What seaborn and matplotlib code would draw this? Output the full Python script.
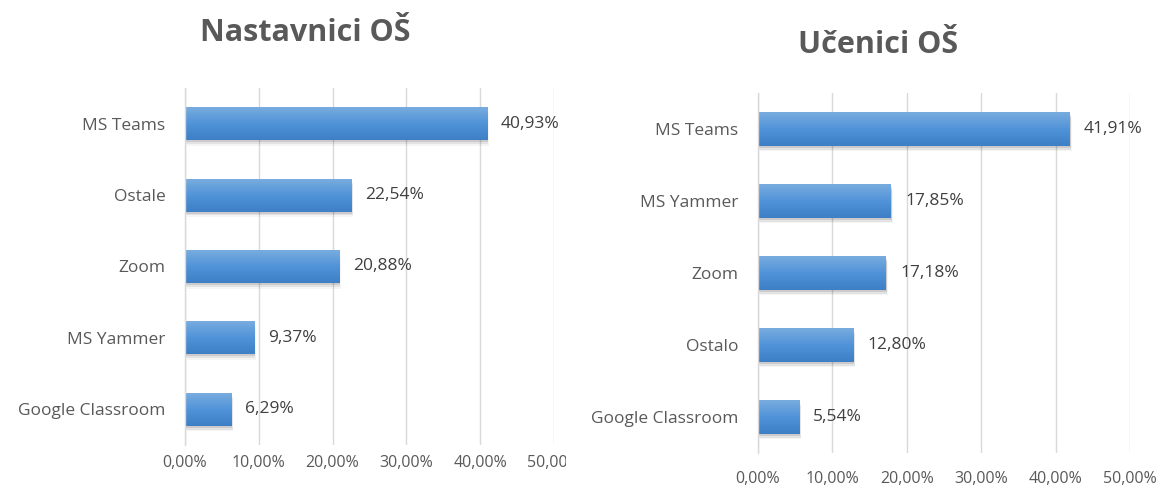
import matplotlib
matplotlib.use("Agg")
import matplotlib.pyplot as plt
import matplotlib.transforms as mtransforms
import numpy as np
import pandas as pd
import seaborn as sns
from matplotlib.colors import LinearSegmentedColormap

# ---- data ----
left_title = "Nastavnici OŠ"
left_categories = ["MS Teams", "Ostale", "Zoom", "MS Yammer", "Google Classroom"]
left_values = [40.93, 22.54, 20.88, 9.37, 6.29]

right_title = "Učenici OŠ"
right_categories = ["MS Teams", "MS Yammer", "Zoom", "Ostalo", "Google Classroom"]
right_values = [41.91, 17.85, 17.18, 12.80, 5.54]

x_ticks = [0, 10, 20, 30, 40, 50]

sns.set_theme(style="white")
plt.rcParams['font.family'] = ['Open Sans', 'DejaVu Sans']

W, H = 1164, 488
fig = plt.figure(figsize=(W / 100, H / 100), dpi=100)

grad_cmap = LinearSegmentedColormap.from_list("bar", ["#78acdf", "#5093d8", "#3e7fc5"])
TEXT = "#595959"


def fmt(v):
    return f"{v:.2f}".replace(".", ",") + "%"


def draw(rect, cats, vals, sep_ticks, xlab_pad):
    ax = fig.add_axes(rect)
    df = pd.DataFrame({"cat": cats, "val": vals})
    sns.barplot(data=df, x="val", y="cat", orient="h", color="#4a8fd6",
                width=0.46, ax=ax, saturation=1, linewidth=0)
    ax.set_xlim(0, 50)
    ax.set_ylim(len(cats) - 0.5, -0.5)
    ax.set_xlabel("")
    ax.set_ylabel("")
    ax.set_xticks(x_ticks)
    ax.set_xticklabels([fmt(t) for t in x_ticks])
    ax.xaxis.grid(True, color="#d9d9d9", linewidth=1)
    ax.set_axisbelow(True)
    for s in ["top", "right", "bottom"]:
        ax.spines[s].set_visible(False)
    ax.spines["left"].set_color("#d9d9d9")
    ax.spines["left"].set_linewidth(1)
    ax.tick_params(axis="x", length=0, pad=xlab_pad, labelsize=11.5, labelcolor=TEXT)
    ax.tick_params(axis="y", which="major", length=0, pad=14, labelsize=12.5, labelcolor=TEXT)
    if sep_ticks:
        ax.set_yticks(np.arange(-0.5, len(cats), 1.0), minor=True)
        ax.tick_params(axis="y", which="minor", length=5, color="#d9d9d9", width=1, direction="out")
    # gradient + soft shadow on bars
    for p, v in zip(ax.patches, vals):
        x0, y0 = p.get_x(), p.get_y()
        w, h = p.get_width(), p.get_height()
        for k, a in enumerate([0.10, 0.07, 0.04]):
            d = 0.12 + 0.1 * k
            shadow = plt.Rectangle((x0 + d * 0.8, y0 + d * 0.25), w, h, color="#000000",
                                   alpha=a, zorder=p.get_zorder() - 0.1, linewidth=0)
            ax.add_patch(shadow)
        img = ax.imshow(np.linspace(0, 1, 64).reshape(-1, 1), cmap=grad_cmap, aspect="auto",
                        extent=(x0, x0 + w, y0 + h, y0), zorder=p.get_zorder() + 0.1,
                        interpolation="bicubic")
        img.set_clip_path(p)
        ax.text(v + 1.9, y0 + h / 2, fmt(v), va="center", ha="left",
                fontsize=12.5, color="#404040")
    ax.set_xlim(0, 50)
    ax.set_ylim(len(cats) - 0.5, -0.5)
    return ax


axL = draw([185 / W, 1 - 445 / H, 369 / W, 357 / H], left_categories, left_values, True, 7)
axR = draw([758 / W, 1 - 453 / H, 372 / W, 360 / H], right_categories, right_values, False, 13)

# clip the last left tick label like the reference crop
clip = mtransforms.Bbox.from_extents(0, 0, 566 / W, 1)
clip_box = mtransforms.TransformedBbox(clip, fig.transFigure)
for lab in axL.get_xticklabels():
    lab.set_clip_box(clip_box)
    lab.set_clip_on(True)

fig.text(305 / W, 1 - 33 / H, left_title, ha="center", va="center", fontsize=22,
         fontweight="bold", color=TEXT)
fig.text(878 / W, 1 - 45 / H, right_title, ha="center", va="center", fontsize=22,
         fontweight="bold", color=TEXT)

fig.savefig("out.png", dpi=100, facecolor="white")
